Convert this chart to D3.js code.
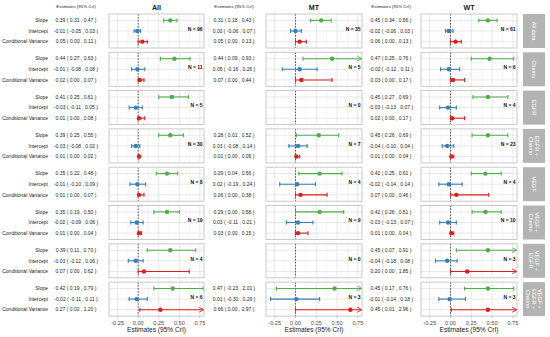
<!DOCTYPE html>
<html><head><meta charset="utf-8">
<script src="https://cdn.jsdelivr.net/npm/d3@7"></script>
<style>body{margin:0;background:#fff}svg{display:block;font-family:"Liberation Sans",Arial,sans-serif}</style>
</head><body><svg id="c" width="550" height="337"></svg>
<script>
const groups = ["All data","Chemo","EGFR","EGFR + Chemo","VEGF","VEGF + Chemo","VEGF + EGFR","VEGF + EGFR + Chemo"];
const params = ["Slope","Intercept","Conditional Variance"];
const columns = ["All","MT","WT"];
const xTicks = [-0.25,0,0.25,0.5,0.75];
const nAll = [96,11,5,30,8,19,4,6];
const nMT  = [35,5,0,7,4,9,0,3];
const nWT  = [61,6,4,23,4,10,3,3];
// [estimate, lower, upper] for Slope, Intercept, Conditional Variance
const estAll = [
 [[0.39,0.31,0.47],[-0.01,-0.05,0.03],[0.05,0.00,0.11]],
 [[0.44,0.27,0.63],[-0.01,-0.08,0.08],[0.02,0.00,0.07]],
 [[0.41,0.25,0.61],[-0.03,-0.11,0.05],[0.01,0.00,0.08]],
 [[0.39,0.25,0.55],[-0.03,-0.08,0.02],[0.01,0.00,0.02]],
 [[0.35,0.22,0.48],[-0.01,-0.10,0.09],[0.01,0.00,0.07]],
 [[0.35,0.19,0.50],[-0.02,-0.09,0.06],[0.01,0.00,0.04]],
 [[0.39,0.11,0.70],[-0.03,-0.12,0.06],[0.07,0.00,0.62]],
 [[0.42,0.19,0.79],[-0.02,-0.11,0.11],[0.27,0.02,1.20]]
];
const estMT = [
 [[0.31,0.18,0.43],[0.00,-0.06,0.07],[0.05,0.00,0.13]],
 [[0.44,0.09,0.93],[0.05,-0.16,0.26],[0.07,0.00,0.44]],
 null,
 [[0.28,0.01,0.52],[0.03,-0.08,0.14],[0.01,0.00,0.05]],
 [[0.29,0.04,0.56],[0.02,-0.19,0.24],[0.06,0.00,0.38]],
 [[0.29,0.00,0.58],[0.03,-0.11,0.21],[0.03,0.00,0.15]],
 null,
 [[0.47,-0.23,2.01],[0.01,-0.30,0.29],[0.66,0.00,2.97]]
];
const estWT = [
 [[0.45,0.34,0.56],[-0.02,-0.06,0.03],[0.06,0.00,0.13]],
 [[0.47,0.25,0.76],[-0.02,-0.12,0.11],[0.03,0.00,0.17]],
 [[0.45,0.27,0.69],[-0.03,-0.13,0.07],[0.02,0.00,0.17]],
 [[0.45,0.26,0.69],[-0.04,-0.10,0.04],[0.01,0.00,0.04]],
 [[0.42,0.25,0.61],[-0.02,-0.14,0.14],[0.07,0.00,0.46]],
 [[0.42,0.26,0.61],[-0.03,-0.13,0.07],[0.01,0.00,0.04]],
 [[0.45,0.07,0.91],[-0.04,-0.18,0.08],[0.20,0.00,1.85]],
 [[0.45,0.17,0.76],[-0.01,-0.14,0.18],[0.45,0.01,2.96]]
];
const colors = ["#4DAF4A","#377EB8","#E41A1C"];

const svg = d3.select("#c");
const est = [estAll, estMT, estWT];
const ns = [nAll, nMT, nWT];
const panelX = [[109,204],[266,362],[421,517]];
const valueCx = [76,234,391];
const top0 = 14, step = 38.3, ph = 34;
const xDom = [-0.355,0.80];
const fmt = v => v.toFixed(2);
const lab = t => `${fmt(t[0])} ( ${fmt(t[1])} , ${fmt(t[2])} )`;
const lw = 1.1;

const defs = svg.append("defs");
colors.forEach((c,i)=>{
  defs.append("marker").attr("id","arr"+i).attr("viewBox","0 0 10 10").attr("refX",9).attr("refY",5)
    .attr("markerWidth",6).attr("markerHeight",6).attr("markerUnits","userSpaceOnUse").attr("orient","auto")
    .append("path").attr("d","M1,1L9,5L1,9").attr("fill","none").attr("stroke",c).attr("stroke-width",1.4);
});

const yScale = d3.scalePoint().domain(params).range([0,ph]).padding(0.6);

columns.forEach((col,ci)=>{
  const x = d3.scaleLinear().domain(xDom).range(panelX[ci]);
  const pxm = (panelX[ci][0]+panelX[ci][1])/2;
  svg.append("text").attr("x",pxm).attr("y",9.5).attr("text-anchor","middle")
    .attr("font-size",7.2).attr("font-weight","bold").attr("fill","#222").text(col);
  svg.append("text").attr("x",valueCx[ci]).attr("y",8).attr("text-anchor","middle")
    .attr("font-size",4.4).attr("fill","#222").text("Estimates (95% CrI)");
  const minor = d3.range(-0.375,0.8,0.25).filter(v=>v>xDom[0]);
  groups.forEach((g,gi)=>{
    const top = top0 + gi*step;
    const gp = svg.append("g").attr("transform",`translate(0,${top})`);
    gp.append("rect").attr("x",panelX[ci][0]).attr("y",0).attr("width",panelX[ci][1]-panelX[ci][0]).attr("height",ph).attr("fill","#fff");
    minor.forEach(v=>gp.append("line").attr("x1",x(v)).attr("x2",x(v)).attr("y1",0).attr("y2",ph).attr("stroke","#ececec").attr("stroke-width",0.5));
    xTicks.forEach(v=>gp.append("line").attr("x1",x(v)).attr("x2",x(v)).attr("y1",0).attr("y2",ph).attr("stroke","#dedede").attr("stroke-width",0.7));
    params.forEach(p=>gp.append("line").attr("x1",panelX[ci][0]).attr("x2",panelX[ci][1]).attr("y1",yScale(p)).attr("y2",yScale(p)).attr("stroke","#dedede").attr("stroke-width",0.7));
    gp.append("line").attr("x1",x(0)).attr("x2",x(0)).attr("y1",0).attr("y2",ph).attr("stroke","#333").attr("stroke-width",0.8).attr("stroke-dasharray","1.6,1.4");
    const d = est[ci][gi];
    if (d) {
      d.forEach((t,pi)=>{
        const y = yScale(params[pi]);
        const c = colors[pi];
        const over = t[2] > xDom[1];
        const x1 = x(Math.max(t[1],xDom[0])), x2 = x(Math.min(t[2],xDom[1]));
        const ln = gp.append("line").attr("x1",x1).attr("x2",x2).attr("y1",y).attr("y2",y).attr("stroke",c).attr("stroke-width",lw);
        if (over) ln.attr("marker-end",`url(#arr${pi})`);
        gp.append("line").attr("x1",x1).attr("x2",x1).attr("y1",y-2).attr("y2",y+2).attr("stroke",c).attr("stroke-width",lw);
        if (!over) gp.append("line").attr("x1",x2).attr("x2",x2).attr("y1",y-2).attr("y2",y+2).attr("stroke",c).attr("stroke-width",lw);
        gp.append("circle").attr("cx",x(t[0])).attr("cy",y).attr("r",2.2).attr("fill",c);
        gp.append("text").attr("x",valueCx[ci]).attr("y",y).attr("dy","0.35em").attr("text-anchor","middle")
          .attr("font-size",5).attr("fill","#222").text(lab(t));
        if (ci===0) gp.append("text").attr("x",48).attr("y",y).attr("dy","0.35em").attr("text-anchor","end")
          .attr("font-size",5).attr("fill","#222").text(params[pi]);
      });
    } else if (ci===0) {
      params.forEach(p=>gp.append("text").attr("x",48).attr("y",yScale(p)).attr("dy","0.35em").attr("text-anchor","end").attr("font-size",5).attr("fill","#222").text(p));
    }
    gp.append("text").attr("x",panelX[ci][1]-1.5).attr("y",yScale("Intercept")-2).attr("dy","0.35em").attr("text-anchor","end")
      .attr("font-size",5).attr("font-weight","bold").attr("fill","#111").text(`N = ${ns[ci][gi]}`);
    gp.append("rect").attr("x",panelX[ci][0]).attr("y",0).attr("width",panelX[ci][1]-panelX[ci][0]).attr("height",ph)
      .attr("fill","none").attr("stroke","#c4c4c4").attr("stroke-width",0.9);
    if (ci===2) {
      gp.append("rect").attr("x",523).attr("y",0).attr("width",22).attr("height",ph).attr("fill","#b3b3b3");
      const parts = g.split(" + ");
      const lines = parts.map((s,i)=> i<parts.length-1 ? s+" +" : s);
      const t = gp.append("text").attr("transform",`translate(534,${ph/2}) rotate(90)`).attr("text-anchor","middle")
        .attr("font-size",5.6).attr("fill","#fff");
      const n = lines.length, lh = 6;
      lines.forEach((l,i)=>t.append("tspan").attr("x",0).attr("y",(i-(n-1)/2)*lh).attr("dy","0.35em").text(l));
    }
  });
  const bottom = top0 + 7*step + ph;
  const ax = svg.append("g").attr("transform",`translate(0,${bottom})`);
  xTicks.forEach(v=>{
    ax.append("line").attr("x1",x(v)).attr("x2",x(v)).attr("y1",0).attr("y2",2.2).attr("stroke","#b3b3b3").attr("stroke-width",0.7);
    ax.append("text").attr("x",x(v)).attr("y",6.5).attr("dy","0.35em").attr("text-anchor","middle").attr("font-size",5.6).attr("fill","#4d4d4d").text(v.toFixed(2));
  });
  ax.append("text").attr("x",pxm).attr("y",14).attr("dy","0.3em").attr("text-anchor","middle").attr("font-size",6.6).attr("fill","#222").text("Estimates (95% CrI)");
});
</script></body></html>
